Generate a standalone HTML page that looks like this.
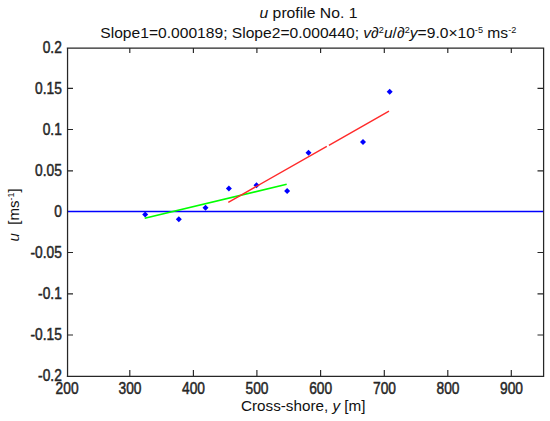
<!DOCTYPE html>
<html><head><meta charset="utf-8">
<style>
html,body{margin:0;padding:0;background:#fff;width:550px;height:421px;overflow:hidden}
svg{display:block}
.t{font-family:"Liberation Sans",sans-serif;fill:#111}
.k{font-family:"Liberation Sans",sans-serif;font-weight:normal;fill:#262626;stroke:#262626;stroke-width:0.5px;font-size:16.8px}
</style></head><body>
<svg width="550" height="421" viewBox="0 0 550 421">
<rect width="550" height="421" fill="#fff"/>
<!-- zero line -->
<line x1="67" y1="211.5" x2="543" y2="211.5" stroke="#0000ff" stroke-width="1.5"/>
<!-- diamonds -->
<g fill="#0000ff">
<path d="M145.2 211.5l3 3-3 3-3-3z"/>
<path d="M178.8 216.2l3 3-3 3-3-3z"/>
<path d="M205.5 204.8l3 3-3 3-3-3z"/>
<path d="M228.9 185.6l3 3-3 3-3-3z"/>
<path d="M256.5 182.2l3 3-3 3-3-3z"/>
<path d="M287.1 188l3 3-3 3-3-3z"/>
<path d="M308.5 149.8l3 3-3 3-3-3z"/>
<path d="M363 138.9l3 3-3 3-3-3z"/>
<path d="M389.7 88.7l3 3-3 3-3-3z"/>
</g>
<line x1="144.7" y1="218.3" x2="286.7" y2="184.3" stroke="#00ff00" stroke-width="1.6"/>
<path d="M228.3 202.3L326.8 146.46M328.9 145.27L389 111.2" stroke="#ff2a2a" stroke-width="1.4" fill="none"/>
<!-- axes box -->
<g stroke="#262626" fill="none">
<path stroke-width="1.25" d="M66.8 48.1H544.2M66.8 376.3H544.2M67.55 47.5V377M543.6 47.5V377"/>
<path stroke-width="1.15" d="M129.8 48v5M193.4 48v5M256.9 48v5M320.6 48v5M384.3 48v5M447.8 48v5M511.3 48v5M129.8 376v-6M193.4 376v-6M256.9 376v-6M320.6 376v-6M384.3 376v-6M447.8 376v-6M511.3 376v-6M67 88.4h6M67 129.5h6M67 170.8h6M67 252.5h6M67 293.8h6M67 335.0h6M544 88.4h-6.5M544 129.5h-6.5M544 170.8h-6.5M544 252.5h-6.5M544 293.8h-6.5M544 335.0h-6.5"/>
</g>
<!-- y tick labels -->
<g class="k" text-anchor="end">
<text transform="translate(61.8,53.22) scale(0.82,1)">0.2</text>
<text transform="translate(61.8,93.72) scale(0.82,1)">0.15</text>
<text transform="translate(61.8,134.82) scale(0.82,1)">0.1</text>
<text transform="translate(61.8,175.92) scale(0.82,1)">0.05</text>
<text transform="translate(61.8,216.82) scale(0.82,1)">0</text>
<text transform="translate(61.8,258.02) scale(0.82,1)">-0.05</text>
<text transform="translate(61.8,299.02) scale(0.82,1)">-0.1</text>
<text transform="translate(61.8,340.42) scale(0.82,1)">-0.15</text>
<text transform="translate(61.8,381.42) scale(0.82,1)">-0.2</text>
</g>
<g class="k" text-anchor="middle">
<text transform="translate(67.1,393.6) scale(0.82,1)">200</text>
<text transform="translate(130,393.6) scale(0.82,1)">300</text>
<text transform="translate(193.5,393.6) scale(0.82,1)">400</text>
<text transform="translate(257,393.6) scale(0.82,1)">500</text>
<text transform="translate(320.7,393.6) scale(0.82,1)">600</text>
<text transform="translate(384.5,393.6) scale(0.82,1)">700</text>
<text transform="translate(448,393.6) scale(0.82,1)">800</text>
<text transform="translate(511.5,393.6) scale(0.82,1)">900</text>
</g>
<!-- titles -->
<text class="t" x="259.5" y="17.5" font-size="15.4" textLength="98" lengthAdjust="spacingAndGlyphs"><tspan font-style="italic">u</tspan> profile No. 1</text>
<text class="t" x="100.3" y="37.6" font-size="15.4" textLength="416" lengthAdjust="spacingAndGlyphs">Slope1=0.000189; Slope2=0.000440; <tspan font-style="italic">v</tspan>∂<tspan font-size="9" dy="-5">2</tspan><tspan font-style="italic" dy="5">u</tspan>/∂<tspan font-size="9" dy="-5">2</tspan><tspan font-style="italic" dy="5">y</tspan>=9.0×10<tspan font-size="9" dy="-5">-5</tspan><tspan dy="5">&#160;ms</tspan><tspan font-size="9" dy="-5">-2</tspan></text>
<text class="t" x="241" y="411.2" font-size="15.4" textLength="124.5" lengthAdjust="spacingAndGlyphs">Cross-shore, <tspan font-style="italic">y</tspan> [m]</text>
<text class="t" transform="translate(18.8,241.4) rotate(-90)" font-size="15.4" textLength="53" lengthAdjust="spacingAndGlyphs"><tspan font-style="italic">u</tspan>&#160;&#160;[ms<tspan font-size="9" dy="-5">-1</tspan><tspan dy="5">]</tspan></text>
</svg>
</body></html>
